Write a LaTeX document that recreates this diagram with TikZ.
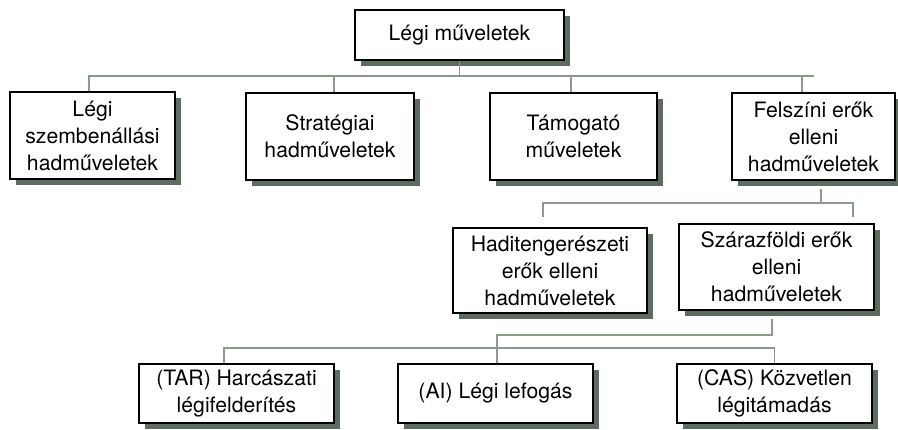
\documentclass[tikz,border=0pt]{standalone}
\usepackage{fontspec}
\setmainfont{TeX Gyre Heros}
\usetikzlibrary{shadows}
\definecolor{cline}{HTML}{8A9A8C}
\definecolor{cshadow}{HTML}{5E6C5F}
\tikzset{
  every picture/.style={font=\fontsize{21.2}{27}\selectfont},
  box/.style={draw=black, fill=white, line width=1.1pt, align=center, inner sep=0pt,
    minimum width=#1, drop shadow={shadow xshift=6pt, shadow yshift=-6pt, fill=cshadow, opacity=1}},
  box/.default=165pt,
  link/.style={draw=cline, line width=1.6pt},
}

\begin{document}
\begin{tikzpicture}[x=1pt, y=-1pt]
  \useasboundingbox (0,0) rectangle (898,430);
  % top level
  \node[box=209pt, minimum height=50pt] (top) at (459.5,35) {Légi műveletek};
  \node[box, minimum height=87pt] (szemben) at (92.5,135.5) {Légi\\szembenállási\\hadműveletek};
  \node[box=168pt, minimum height=87pt] (strat) at (330,136.5) {Stratégiai\\hadműveletek};
  \node[box=167pt, minimum height=87pt] (tamog) at (573.5,136.5) {Támogató\\műveletek};
  \node[box=163pt, minimum height=87pt] (felszin) at (813.5,136.5) {Felszíni erők\\elleni\\hadműveletek};
  % second level
  \node[box=194pt, minimum height=85pt] (haditeng) at (550,270.5) {Haditengerészeti\\erők elleni\\hadműveletek};
  \node[box=195pt, minimum height=86pt] (szaraz) at (776.5,267) {Szárazföldi erők\\elleni\\hadműveletek};
  % third level
  \node[box=195pt, minimum height=59pt] (tar) at (236.5,393.5) {(TAR) Harcászati\\légifelderítés};
  \node[box=195pt, minimum height=59pt] (ai) at (495.5,393.5) {(AI) Légi lefogás};
  \node[box=195pt, minimum height=59pt] (cas) at (774.5,393.5) {(CAS) Közvetlen\\légitámadás};

  \coordinate (bus1) at (0,76);
  \coordinate (bus2) at (0,203);
  \coordinate (bus3) at (0,335);
  \coordinate (bus4) at (0,348);
  \coordinate (hl) at (543,217);
  \coordinate (hr) at (853,217);

  \draw[link] (top.south) -- (top.south |- bus1);
  \draw[link] ([xshift=-3.5pt]szemben.north) |- (bus1 -| felszin.north) ++(-11.5,0) -- ([xshift=-11.5pt]felszin.north);
  \draw[link] ([xshift=4pt]strat.north) -- ([xshift=4pt]strat.north |- bus1);
  \draw[link] ([xshift=-2.5pt]tamog.north) -- ([xshift=-2.5pt]tamog.north |- bus1);

  \draw[link] ([xshift=7.5pt, yshift=-8pt]felszin.south) -- ([xshift=7.5pt]felszin.south |- bus2);
  \draw[link] (hl) |- (bus2 -| hr) -- (hr);

  \draw[link] ([xshift=-4.5pt, yshift=-8pt]szaraz.south) |- (bus3 -| ai.north) ++(1.5,0) -- ([xshift=1.5pt]ai.north);
  \draw[link] ([xshift=-12.5pt]tar.north) |- (bus4 -| cas.north) -- (cas.north);
\end{tikzpicture}
\end{document}
